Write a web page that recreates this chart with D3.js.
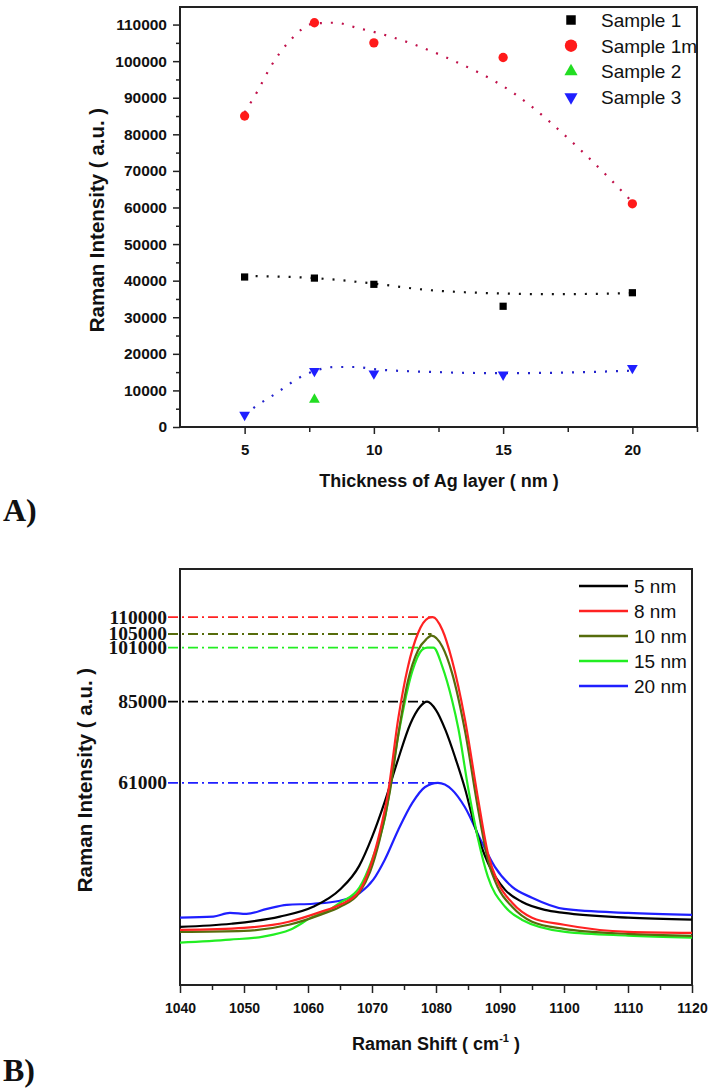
<!DOCTYPE html>
<html>
<head>
<meta charset="utf-8">
<title>Raman intensity vs Ag layer thickness</title>
<script src="https://d3js.org/d3.v7.min.js"></script>
<style>
  body { margin: 0; background: #fff; }
  svg text { fill: #111; }
</style>
</head>
<body>
<script>
// ---------- panel A : intensity vs thickness ----------
var thickness = [5, 7.7, 10, 15, 20];
var sample1  = [41000, 40700, 39000, 33000, 36700];
var sample1m = [85000, 110500, 105000, 101000, 61000];
var sample2x = [7.7];
var sample2  = [7500];
var sample3  = [3300, 15300, 14600, 14300, 16100];

// dotted guide curves
var fit1  = [[5,41300],[7.7,40700],[10,39200],[12,37500],[14,36700],[17,36300],[20,36600]];
var fit1m = [[5,86000],[5.5,91800],[6,98400],[6.7,105200],[7.7,110300],[8.5,110500],[9.4,109000],
             [10.2,107600],[12.8,101000],[15.4,91300],[18,75700],[20,61500]];
var fit3  = [[5,3300],[5.5,6000],[6,8200],[6.5,10600],[7,13000],[7.7,15300],[8.5,16400],[9.3,16400],
             [10,15800],[12.5,15000],[15,14700],[17.5,14900],[20,15400]];

var legendA = ["Sample 1", "Sample 1m", "Sample 2", "Sample 3"];

// ---------- panel B : spectra ----------
var spec5  = [[1040,18500],[1048,19400],[1055.6,21500],[1060.8,24400],[1065,29500],[1068,36500],[1070,45000],
              [1072,55500],[1074,67500],[1076,78500],[1077.5,83500],[1078.6,85000],[1080,82500],[1081.5,76500],
              [1083,68500],[1084.5,59500],[1086.1,48000],[1088.1,37400],[1090.8,29400],[1093.4,25900],
              [1097,23500],[1100,22600],[1110,21200],[1120,20600]];
var spec8  = [[1040,17600],[1050,18200],[1057,20000],[1062,22900],[1065,25000],[1068,29000],[1069.7,36200],
              [1071.2,46300],[1072.5,58000],[1074.1,80000],[1075.6,95200],[1077.2,105300],[1078.8,109700],
              [1079.5,110000],[1081,106200],[1082.5,97300],[1084.5,80000],[1086.6,56000],[1088.1,40300],
              [1089.7,31500],[1091.9,25600],[1095,21200],[1100,19100],[1110,17000],[1120,16700]];
var spec10 = [[1040,17000],[1050,17300],[1057,19100],[1062,22100],[1065,24400],[1068,28500],[1069.7,34700],
              [1071.2,44200],[1072.8,58500],[1074.1,75200],[1075.6,91000],[1077.2,100200],[1078.5,103500],
              [1079.3,104500],[1081,101200],[1082.5,93500],[1084.5,76700],[1086.6,53000],[1088.1,38300],
              [1089.7,30000],[1091.9,24400],[1095,20000],[1100,17900],[1110,16400],[1120,15800]];
var spec15 = [[1040,13800],[1047.8,14700],[1053,15600],[1057.2,17600],[1060.8,21500],[1063.4,23600],[1065,25600],
              [1068,30000],[1070,38300],[1072,50500],[1074.1,75000],[1076.3,94000],[1077.8,100300],
              [1078.6,101000],[1079.6,101000],[1081,95300],[1082.5,85500],[1083.5,77000],[1085,59800],
              [1086.6,44200],[1088.1,33300],[1090.8,24400],[1093.4,20600],[1100.2,17000],[1110,15900],[1120,15300]];
var spec20 = [[1040,21200],[1045.2,21500],[1047.8,22600],[1050.4,22300],[1053.6,23800],[1056.7,25000],
              [1060.8,25300],[1065,26200],[1068.1,28500],[1070.2,32400],[1072,38300],[1074.1,47100],
              [1076.3,55100],[1078.3,59800],[1080.3,61000],[1082.5,59000],[1084.5,53900],[1087.2,43300],
              [1089.2,36200],[1091.9,30300],[1095,27100],[1100,23800],[1110,22600],[1120,22000]];

var legendB = ["5 nm", "8 nm", "10 nm", "15 nm", "20 nm"];
var colorsB = ["#000000", "#ff2222", "#566c0c", "#22ee22", "#1f1fff"];
var peakLabels = ["85000", "110000", "105000", "101000", "61000"];
var peakValues = [85000, 110000, 105000, 101000, 61000];

var SANS = '"Liberation Sans", Arial, sans-serif';
var SERIF = '"Liberation Serif", "Times New Roman", serif';

var svg = d3.select("body").append("svg")
  .attr("width", 711).attr("height", 1092);

function styleAxis(g, size) {
  g.select(".domain").remove();
  g.selectAll("line").attr("stroke", "#222").attr("stroke-width", 1.5);
  g.selectAll("text").attr("font-family", SANS).attr("font-weight", "bold")
    .attr("font-size", size).attr("fill", "#111");
}

// ================= panel A =================
var xA = d3.scaleLinear().domain([2.5, 22.5]).range([180, 697]);
var yA = d3.scaleLinear().domain([0, 114800]).range([427, 7]);

var gA = svg.append("g");

// minor ticks
gA.append("g").attr("transform", "translate(0,427)")
  .call(d3.axisBottom(xA).tickValues([7.5, 12.5, 17.5, 22.5]).tickSize(5).tickFormat(""))
  .call(styleAxis, 15);
gA.append("g").attr("transform", "translate(0,427)")
  .call(d3.axisBottom(xA).tickValues([5, 10, 15, 20]).tickSize(7).tickPadding(10).tickFormat(d3.format("d")))
  .call(styleAxis, 15);
gA.append("g").attr("transform", "translate(180,0)")
  .call(d3.axisLeft(yA).tickValues(d3.range(5000, 115000, 10000)).tickSize(4).tickFormat(""))
  .call(styleAxis, 15);
gA.append("g").attr("transform", "translate(180,0)")
  .call(d3.axisLeft(yA).tickValues(d3.range(0, 110001, 10000)).tickSize(7).tickPadding(6).tickFormat(d3.format("d")))
  .call(styleAxis, 15.5);

gA.append("rect")
  .attr("x", xA.range()[0]).attr("y", yA.range()[1])
  .attr("width", xA.range()[1] - xA.range()[0]).attr("height", yA.range()[0] - yA.range()[1])
  .attr("fill", "none").attr("stroke", "#222").attr("stroke-width", 2);

var lineA = d3.line().x(function(d) { return xA(d[0]); }).y(function(d) { return yA(d[1]); })
  .curve(d3.curveMonotoneX);

[[fit1, "#111"], [fit1m, "#c0104a"], [fit3, "#2222cc"]].forEach(function(f) {
  gA.append("path").attr("d", lineA(f[0]))
    .attr("fill", "none").attr("stroke", f[1]).attr("stroke-width", 2.2)
    .attr("stroke-dasharray", "2,9");
});

function drawPoints(xs, ys, type, color, size, rot) {
  gA.selectAll(null).data(ys).enter().append("path")
    .attr("d", d3.symbol().type(type).size(size))
    .attr("transform", function(d, i) { return "translate(" + xA(xs[i]) + "," + yA(d) + ") rotate(" + rot + ")"; })
    .attr("fill", color);
}
drawPoints(thickness, sample1, d3.symbolSquare, "#000", 52, 0);
drawPoints(thickness, sample1m, d3.symbolCircle, "#ff1a1a", 68, 0);
drawPoints(sample2x, sample2, d3.symbolTriangle, "#22dd22", 50, 0);
drawPoints(thickness, sample3, d3.symbolTriangle, "#1f1fff", 50, 180);

// legend A
var legA = [[d3.symbolSquare, "#000", 0, 90], [d3.symbolCircle, "#ff1a1a", 0, 120],
            [d3.symbolTriangle, "#22dd22", 0, 75], [d3.symbolTriangle, "#1f1fff", 180, 75]];
legendA.forEach(function(name, i) {
  var y = 20 + i * 25.7;
  gA.append("path").attr("d", d3.symbol().type(legA[i][0]).size(legA[i][3]))
    .attr("transform", "translate(571," + y + ") rotate(" + legA[i][2] + ")")
    .attr("fill", legA[i][1]);
  gA.append("text").attr("x", 601).attr("y", y + 7)
    .attr("font-family", SANS).attr("font-size", 19).text(name);
});

gA.append("text")
  .attr("transform", "translate(104,220) rotate(-90)")
  .attr("text-anchor", "middle").attr("font-family", SANS).attr("font-weight", "bold").attr("font-size", 20.5)
  .text("Raman Intensity ( a.u. )");
gA.append("text")
  .attr("x", 439).attr("y", 487)
  .attr("text-anchor", "middle").attr("font-family", SANS).attr("font-weight", "bold").attr("font-size", 18)
  .text("Thickness of Ag layer ( nm )");
svg.append("text").attr("x", 3).attr("y", 521)
  .attr("font-family", SERIF).attr("font-weight", "bold").attr("font-size", 32).text("A)");

// ================= panel B =================
var xB = d3.scaleLinear().domain([1040, 1120]).range([180, 692]);
var yB = d3.scaleLinear().domain([1300, 124200]).range([985, 569]);

var gB = svg.append("g");

gB.append("g").attr("transform", "translate(0,985)")
  .call(d3.axisBottom(xB).tickValues(d3.range(1045, 1120, 10)).tickSize(5).tickFormat(""))
  .call(styleAxis, 14);
gB.append("g").attr("transform", "translate(0,985)")
  .call(d3.axisBottom(xB).tickValues(d3.range(1040, 1121, 10)).tickSize(8).tickPadding(10).tickFormat(d3.format("d")))
  .call(styleAxis, 14);

gB.append("rect")
  .attr("x", xB.range()[0]).attr("y", yB.range()[1])
  .attr("width", xB.range()[1] - xB.range()[0]).attr("height", yB.range()[0] - yB.range()[1])
  .attr("fill", "none").attr("stroke", "#222").attr("stroke-width", 2);

var spectra = [spec5, spec8, spec10, spec15, spec20];
var lineB = d3.line().x(function(d) { return xB(d[0]); }).y(function(d) { return yB(d[1]); })
  .curve(d3.curveMonotoneX);

// peak reference lines with their values
spectra.forEach(function(s, i) {
  var peak = d3.greatest(s, function(d) { return d[1]; });
  gB.append("line")
    .attr("x1", 168).attr("x2", xB(peak[0]))
    .attr("y1", yB(peakValues[i])).attr("y2", yB(peakValues[i]))
    .attr("stroke", colorsB[i]).attr("stroke-width", 1.8)
    .attr("stroke-dasharray", "10,4,2,4");
  gB.append("text").attr("x", 167).attr("y", yB(peakValues[i]) + 6.5)
    .attr("text-anchor", "end").attr("font-family", SERIF).attr("font-weight", "bold").attr("font-size", 19.5)
    .text(peakLabels[i]);
});

// draw order: 20, 5, 15, 10, 8
[4, 0, 3, 2, 1].forEach(function(i) {
  gB.append("path").attr("d", lineB(spectra[i]))
    .attr("fill", "none").attr("stroke", colorsB[i]).attr("stroke-width", 2.2);
});

legendB.forEach(function(name, i) {
  var y = 586 + i * 25;
  gB.append("line").attr("x1", 579).attr("x2", 628).attr("y1", y).attr("y2", y)
    .attr("stroke", colorsB[i]).attr("stroke-width", 2.5);
  gB.append("text").attr("x", 634).attr("y", y + 7)
    .attr("font-family", SANS).attr("font-size", 19).text(name);
});

gB.append("text")
  .attr("transform", "translate(92,780) rotate(-90)")
  .attr("text-anchor", "middle").attr("font-family", SANS).attr("font-weight", "bold").attr("font-size", 20.5)
  .text("Raman Intensity ( a.u. )");
var xl = gB.append("text")
  .attr("x", 436).attr("y", 1050)
  .attr("text-anchor", "middle").attr("font-family", SANS).attr("font-weight", "bold").attr("font-size", 18);
xl.append("tspan").text("Raman Shift ( cm");
xl.append("tspan").attr("dy", -8).attr("font-size", 11).text("-1");
xl.append("tspan").attr("dy", 8).text(" )");
svg.append("text").attr("x", 3).attr("y", 1081)
  .attr("font-family", SERIF).attr("font-weight", "bold").attr("font-size", 32).text("B)");
</script>
</body>
</html>
